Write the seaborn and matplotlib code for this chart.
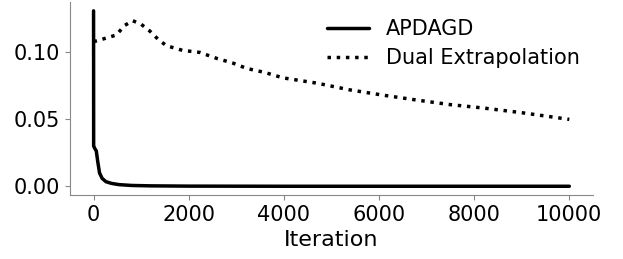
import numpy as np
import pandas as pd
import matplotlib
matplotlib.use('Agg')
import matplotlib.pyplot as plt
import seaborn as sns

# --- values ---
apdagd_iter = [0, 2, 10, 30, 57, 90, 126, 180, 260, 380, 540, 800, 1200, 2000, 4000, 6000, 8000, 10000]
apdagd_val = [0.131, 0.030, 0.0295, 0.028, 0.0265, 0.018, 0.010, 0.006, 0.0035, 0.0022, 0.0013, 0.0007, 0.0004, 0.0002, 0.0001, 0.0001, 0.0001, 0.0001]

dual_iter = [0, 200, 480, 650, 820, 1000, 1180, 1350, 1530, 1870, 2230, 2590, 2930, 3220, 3600, 3980,
             4700, 5390, 6100, 6800, 7500, 8190, 9000, 10000]
dual_val = [0.108, 0.110, 0.113, 0.120, 0.1237, 0.121, 0.116, 0.110, 0.105, 0.1015, 0.100, 0.0955, 0.092, 0.088, 0.085, 0.081,
            0.077, 0.072, 0.068, 0.0644, 0.061, 0.0585, 0.055, 0.050]

df_a = pd.DataFrame({'Iteration': apdagd_iter, 'value': apdagd_val})
df_d = pd.DataFrame({'Iteration': dual_iter, 'value': dual_val})

sns.set_style('ticks')
plt.rcParams['font.family'] = ['DejaVu Sans']

fig, ax = plt.subplots(figsize=(6.23, 2.59), dpi=100)
sns.lineplot(data=df_a, x='Iteration', y='value', ax=ax, color='black', linewidth=2.5, label='APDAGD')
sns.lineplot(data=df_d, x='Iteration', y='value', ax=ax, color='black', linewidth=2.5,
             linestyle=':', label='Dual Extrapolation')

ax.set_xticks([0, 2000, 4000, 6000, 8000, 10000])
ax.set_yticks([0.00, 0.05, 0.10])
ax.set_yticklabels(['0.00', '0.05', '0.10'])
ax.tick_params(labelsize=15, colors='black')
ax.set_xlabel('Iteration', fontsize=16, color='black')
ax.set_ylabel('')
for s in ['left', 'bottom']:
    ax.spines[s].set_color('#888888')
ax.tick_params(color='#888888')
sns.despine(ax=ax)
ax.legend(frameon=False, fontsize=15, loc='upper right', bbox_to_anchor=(1.01, 1.01),
          handlelength=2.0, labelspacing=0.45, labelcolor='black')

plt.subplots_adjust(left=0.112, right=0.952, top=0.992, bottom=0.247)
plt.savefig('out.png', dpi=100)
